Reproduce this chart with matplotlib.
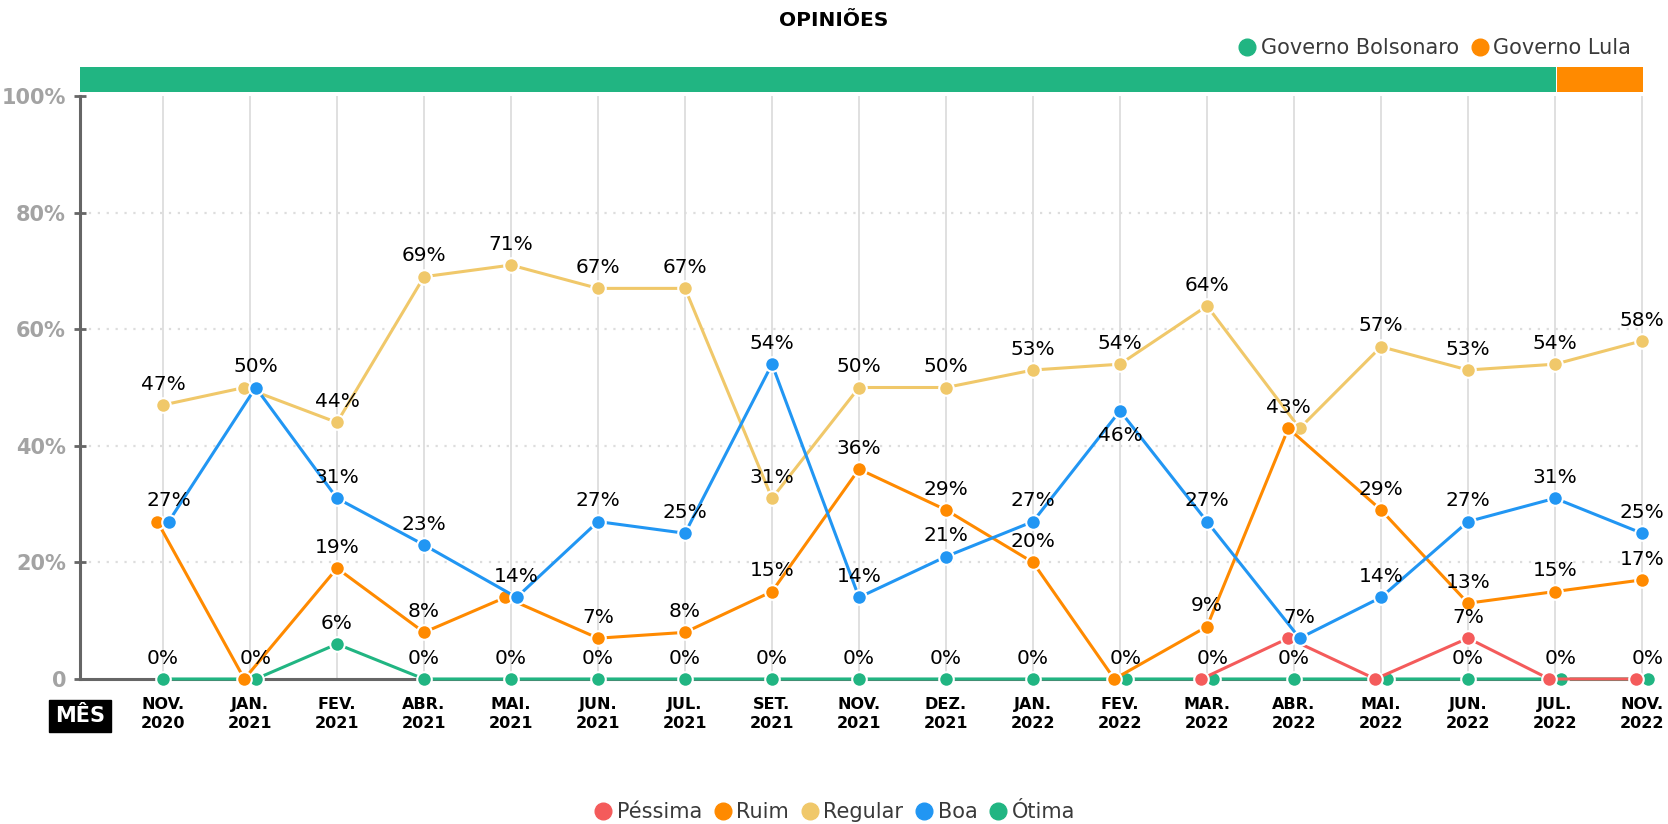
import numpy as np
import matplotlib.pyplot as plt
from matplotlib.lines import Line2D
from matplotlib.patches import Rectangle

plt.rcParams['font.family'] = ['DejaVu Sans']

# ---- dados ----
meses = ['NOV.\n2020', 'JAN.\n2021', 'FEV.\n2021', 'ABR.\n2021', 'MAI.\n2021', 'JUN.\n2021',
         'JUL.\n2021', 'SET.\n2021', 'NOV.\n2021', 'DEZ.\n2021', 'JAN.\n2022', 'FEV.\n2022',
         'MAR.\n2022', 'ABR.\n2022', 'MAI.\n2022', 'JUN.\n2022', 'JUL.\n2022', 'NOV.\n2022']

pessima = [None, None, None, None, None, None, None, None, None, None, None, None,
           0, 7, 0, 7, 0, 0]
ruim = [27, 0, 19, 8, 14, 7, 8, 15, 36, 29, 20, 0, 9, 43, 29, 13, 15, 17]
regular = [47, 50, 44, 69, 71, 67, 67, 31, 50, 50, 53, 54, 64, 43, 57, 53, 54, 58]
boa = [27, 50, 31, 23, 14, 27, 25, 54, 14, 21, 27, 46, 27, 7, 14, 27, 31, 25]
otima = [0, 0, 6, 0, 0, 0, 0, 0, 0, 0, 0, 0, 0, 0, 0, 0, 0, 0]

governos = ['Governo Bolsonaro', 'Governo Lula']
governo_fim = ['JUL.\n2022', 'NOV.\n2022']   # ultimo mes de cada faixa

# ---- estilo ----
nomes = ['Péssima', 'Ruim', 'Regular', 'Boa', 'Ótima']
series = dict(zip(nomes, [pessima, ruim, regular, boa, otima]))
cores = {'Péssima': '#F45B5B', 'Ruim': '#FF8A00', 'Regular': '#F0C86A',
         'Boa': '#2196F3', 'Ótima': '#21B582'}
zord = {'Ótima': 3, 'Regular': 4, 'Péssima': 5, 'Ruim': 6, 'Boa': 7}
cores_gov = ['#21B582', '#FF8A00']
prioridade = ['Ótima', 'Boa', 'Ruim', 'Regular', 'Péssima']
rotulo_abaixo = {('Boa', 11)}
rotulo_oculto = {('Ótima', 14)}

n = len(meses)
xx = np.arange(n)
vals = {s: np.array([np.nan if v is None else v for v in series[s]], dtype=float) for s in nomes}

# afasta um pouco os pontos que caem em cima um do outro
offs = {s: np.zeros(n) for s in nomes}
for i in range(n):
    ativos = [s for s in nomes if not np.isnan(vals[s][i])]
    usados = set()
    for s in ativos:
        if s in usados:
            continue
        grupo = [t for t in ativos if t not in usados and abs(vals[t][i] - vals[s][i]) < 3]
        for k, t in enumerate(grupo):
            offs[t][i] = (k - (len(grupo) - 1) / 2.0) * 0.13
        usados.update(grupo)

fig = plt.figure(figsize=(16.68, 8.24), dpi=100)
ax = fig.add_axes([80 / 1668, 1 - 679 / 824, 1570 / 1668, 583 / 824])

x0 = -(163 - 80) / 87.0
x1 = 17 + (1650 - 1642) / 87.0
ax.set_xlim(x0, x1)
ax.set_ylim(0, 100)

for s in nomes:
    ax.plot(xx + offs[s], vals[s], color=cores[s], lw=2.2, marker='o', ms=10.5,
            mec='white', mew=1.5, zorder=zord[s], clip_on=False)

# rotulos
for i in range(n):
    postos = []
    for s in prioridade:
        v = vals[s][i]
        if np.isnan(v):
            continue
        if any(abs(v - p) < 3 for p in postos):
            continue
        postos.append(v)
        if (s, i) in rotulo_oculto:
            continue
        if (s, i) in rotulo_abaixo:
            ax.annotate('%d%%' % v, (xx[i] + offs[s][i], v), xytext=(0, -11),
                        textcoords='offset points', ha='center', va='top', fontsize=14.5, zorder=10)
        else:
            ax.annotate('%d%%' % v, (xx[i] + offs[s][i], v), xytext=(0, 11),
                        textcoords='offset points', ha='center', va='baseline', fontsize=14.5, zorder=10)

# faixa dos governos
ini = x0
for g, fim, c in zip(governos, governo_fim, cores_gov):
    xf = meses.index(fim) + 0.02
    ax.add_patch(Rectangle((ini, 100.7), xf - ini - 0.012, 4.3, color=c, clip_on=False, lw=0))
    ini = xf

# eixos
ax.set_xticks(xx)
ax.set_xticklabels(meses, fontsize=11.5, fontweight='bold', linespacing=1.35)
ax.tick_params(axis='x', length=0, pad=13)
ax.set_yticks([0, 20, 40, 60, 80, 100])
ax.set_yticklabels(['0', '20%', '40%', '60%', '80%', '100%'], fontsize=15, color='#a3a3a3',
                   fontweight='bold')
ax.tick_params(axis='y', direction='inout', length=8, width=2, color='#666666', pad=6)
for sp in ['top', 'right']:
    ax.spines[sp].set_visible(False)
ax.spines['left'].set_color('#666666')
ax.spines['left'].set_linewidth(2.2)
ax.spines['bottom'].set_color('#666666')
ax.spines['bottom'].set_linewidth(2.2)
ax.spines['bottom'].set_zorder(2.5)
ax.grid(axis='x', color='#dddddd', lw=1.3)
ax.hlines([20, 40, 60, 80], x0, 17, colors='#dddddd', linestyles=(0, (1, 3)), lw=1.6, zorder=0)
ax.set_axisbelow(True)

fig.text(80 / 1668, 1 - 716 / 824, 'MÊS', ha='center', va='center', color='white',
         fontsize=15, fontweight='bold',
         bbox=dict(boxstyle='square,pad=0.3', fc='black', ec='black'))

fig.text(0.5, 1 - 20 / 824, 'OPINIÕES', ha='center', va='center', fontsize=14.5, fontweight='bold')

h_gov = [Line2D([], [], ls='', marker='o', ms=12, color=c) for c in cores_gov]
fig.legend(h_gov, governos, loc='center right', bbox_to_anchor=(1650 / 1668, 1 - 48 / 824),
           ncol=2, frameon=False, handletextpad=0.15, columnspacing=0.5,
           prop={'size': 15}, labelcolor='#3a3a3a', handlelength=1.0)

h_ser = [Line2D([], [], ls='', marker='o', ms=12, color=cores[s]) for s in nomes]
fig.legend(h_ser, nomes, loc='center', bbox_to_anchor=(0.5, 1 - 812 / 824),
           ncol=5, frameon=False, handletextpad=0.15, columnspacing=0.5,
           prop={'size': 15}, labelcolor='#3a3a3a', handlelength=1.0)

fig.savefig('out.png', dpi=100)
